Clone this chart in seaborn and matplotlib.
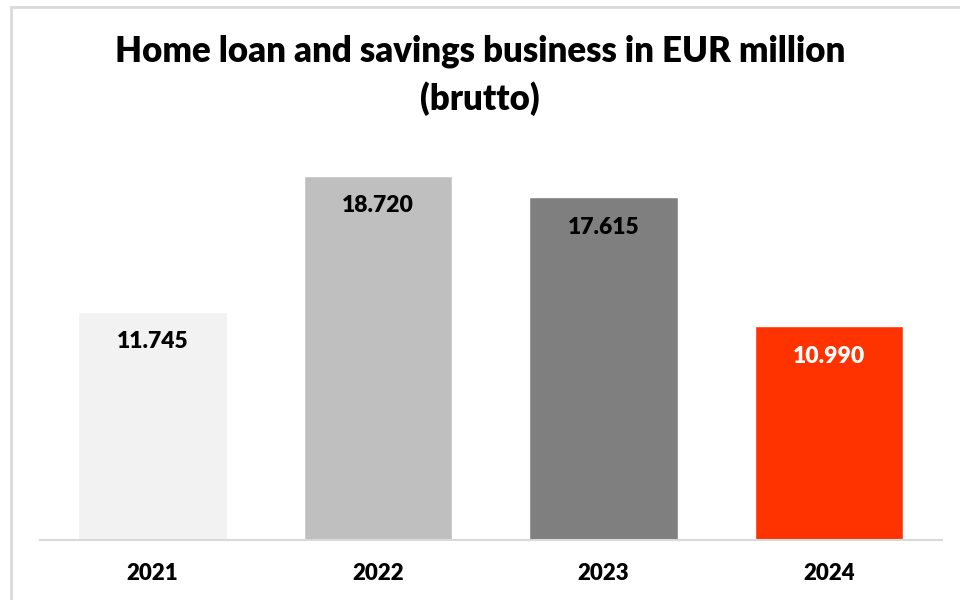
import matplotlib
matplotlib.use("Agg")
import matplotlib.pyplot as plt
from matplotlib.patches import Rectangle
import seaborn as sns
import pandas as pd

# Gross home loan and savings business, EUR million
years = ["2021", "2022", "2023", "2024"]
volumes = [11745, 18720, 17615, 10990]
value_labels = ["11.745", "18.720", "17.615", "10.990"]
bar_colors = ["#F2F2F2", "#BFBFBF", "#7F7F7F", "#FF3300"]
label_colors = ["#000000", "#000000", "#000000", "#FFFFFF"]
title = "Home loan and savings business in EUR million\n(brutto)"

sns.set_theme(style="white")
plt.rcParams["font.family"] = ["Lato", "DejaVu Sans"]

df = pd.DataFrame({"year": years, "volume": volumes})

fig = plt.figure(figsize=(9.6, 6), dpi=100)
ax = fig.add_axes([39.75 / 960, 60 / 600, 902 / 960, 389 / 600])

sns.barplot(data=df, x="year", y="volume", hue="year", palette=bar_colors,
            legend=False, width=0.66, saturation=1, ax=ax)

ax.set_ylim(0, 20000)
ax.set_xlim(-0.5, len(years) - 0.5)
ax.set_xlabel("")
ax.set_ylabel("")
ax.set_yticks([])
for side in ("top", "left", "right"):
    ax.spines[side].set_visible(False)
ax.spines["bottom"].set_color("#D9D9D9")
ax.spines["bottom"].set_linewidth(1.5)
ax.tick_params(axis="x", length=0, pad=16.5, labelsize=16, labelcolor="#000000")
for lbl in ax.get_xticklabels():
    lbl.set_fontweight("heavy")

for i, (v, txt, c) in enumerate(zip(volumes, value_labels, label_colors)):
    ax.annotate(txt, xy=(i, v), xytext=(0, -21.5), textcoords="offset points",
                ha="center", va="center", fontsize=16.5, fontweight="heavy",
                color=c)

fig.text(0.5, 1 - 75 / 600, title, ha="center", va="center",
         fontsize=25, fontweight="heavy", color="#000000", linespacing=1.45)

# light frame around the chart area
fig.patches.append(Rectangle((10.5 / 960, -0.1), 2.0, 1 - 6.5 / 600 + 0.1,
                             transform=fig.transFigure, fill=False,
                             edgecolor="#D9D9D9", linewidth=2))

fig.savefig("out.png", dpi=100, facecolor="white")
